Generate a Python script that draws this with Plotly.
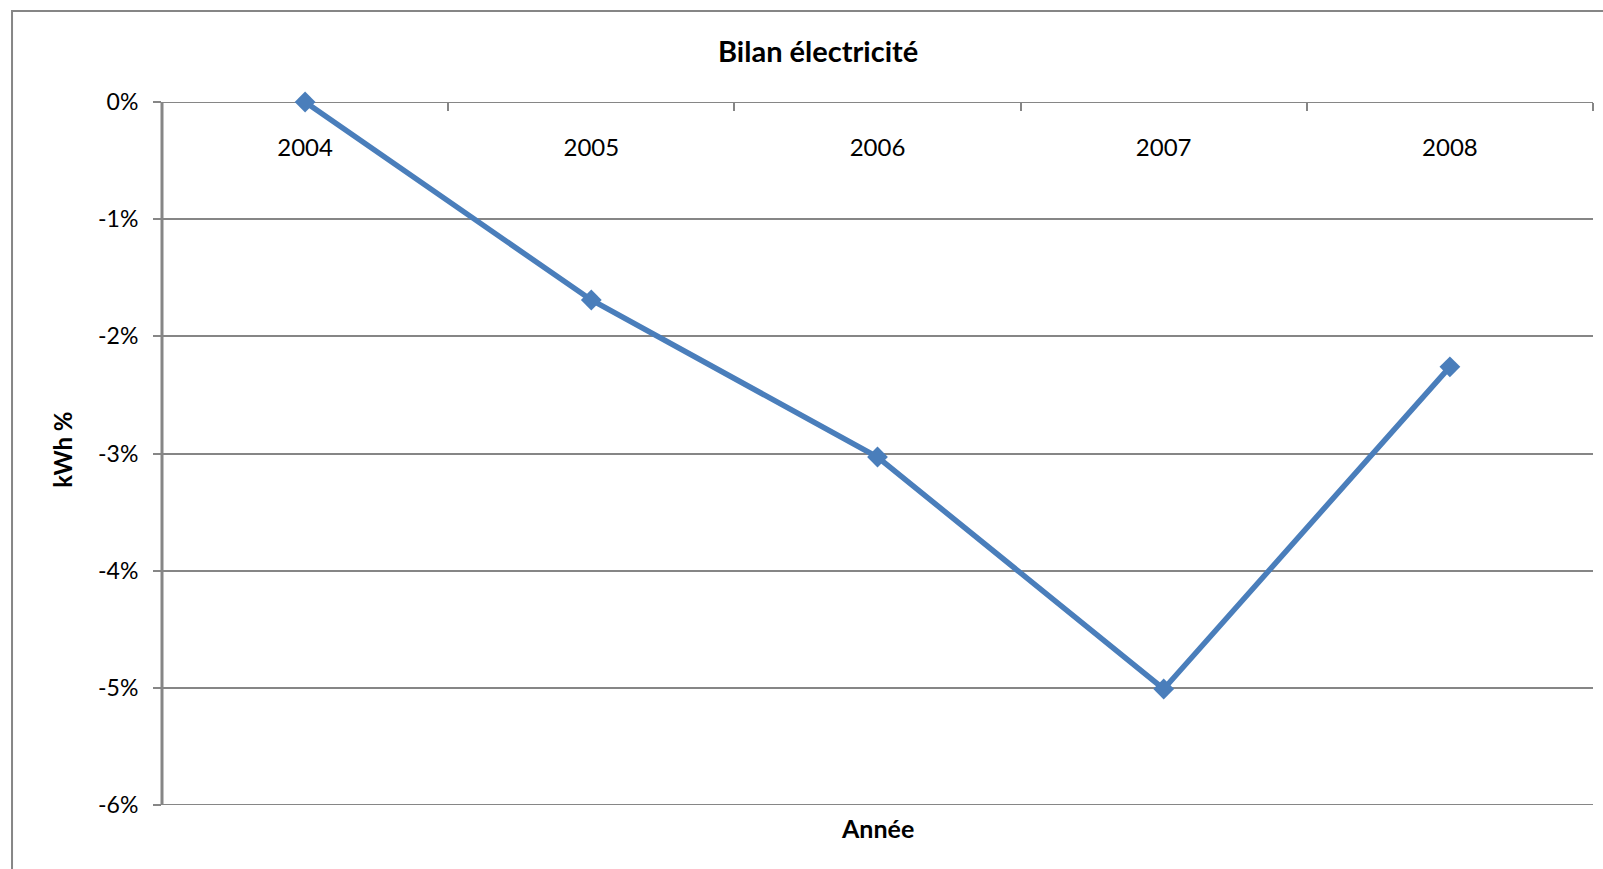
import plotly.graph_objects as go

# Annual electricity balance, change in kWh relative to 2004
years = ["2004", "2005", "2006", "2007", "2008"]
kwh_change = [0.0, -1.69, -3.03, -5.01, -2.26]

y_ticks = [0, -1, -2, -3, -4, -5, -6]
y_tick_labels = ["0%", "-1%", "-2%", "-3%", "-4%", "-5%", "-6%"]

title_text = "Bilan électricité"
x_title = "Année"
y_title = "kWh %"

FONT = "Lato"
GRID = "#868686"
BLUE = "#4A7EBB"

fig = go.Figure(
    go.Scatter(
        x=years,
        y=kwh_change,
        mode="lines+markers",
        line=dict(color=BLUE, width=5.5),
        marker=dict(symbol="diamond", size=16, color=BLUE),
        cliponaxis=False,
    )
)

fig.update_layout(
    width=1603,
    height=869,
    margin=dict(l=162, r=10, t=102, b=64),
    paper_bgcolor="white",
    plot_bgcolor="white",
    showlegend=False,
    font=dict(family=FONT, color="black", size=24),
)

# Category axis sits on the 0% line, labels hanging below it
fig.update_xaxes(
    type="category",
    range=[-0.5, 4.5],
    side="bottom",
    anchor="free",
    position=1,
    tickson="boundaries",
    ticks="outside",
    ticklen=8,
    tickwidth=2,
    tickcolor=GRID,
    ticklabelstandoff=29,
    showline=False,
    showgrid=False,
    zeroline=False,
    tickfont=dict(family=FONT, size=24, color="black"),
)

y_min, y_max = min(y_ticks), max(y_ticks)

fig.update_yaxes(
    range=[y_min, y_max],
    tickvals=y_ticks,
    ticktext=y_tick_labels,
    ticks="outside",
    ticklen=8,
    tickwidth=2,
    tickcolor=GRID,
    ticklabelstandoff=10,
    showgrid=True,
    gridcolor=GRID,
    gridwidth=2,
    showline=False,
    zeroline=False,
    tickfont=dict(family=FONT, size=23, color="black"),
)

# Gridlines on the top and bottom edges of the plot area
for edge in (y_min, y_max):
    fig.add_shape(
        type="line", xref="paper", yref="y",
        x0=0, x1=1, y0=edge, y1=edge,
        line=dict(color=GRID, width=2), layer="below",
    )

# Vertical value-axis line from 0% down to -6%
fig.add_shape(
    type="line", xref="paper", yref="y",
    x0=0, x1=0, y0=y_min, y1=y_max,
    line=dict(color=GRID, width=3), layer="above",
)

# Chart area frame
fig.add_shape(
    type="rect", xref="paper", yref="paper",
    x0=-0.1048, x1=1.2, y0=-0.3, y1=1.1296,
    line=dict(color=GRID, width=2), fillcolor="rgba(0,0,0,0)", layer="below",
)

fig.add_annotation(
    text=f"<b>{title_text}</b>", xref="paper", yref="paper",
    x=0.4583, y=1.0729, showarrow=False, xanchor="center", yanchor="middle",
    font=dict(family=FONT, size=29, color="black"),
)
fig.add_annotation(
    text=f"<b>{x_title}</b>", xref="paper", yref="paper",
    x=0.5, y=-0.0325, showarrow=False, xanchor="center", yanchor="middle",
    font=dict(family=FONT, size=25, color="black"),
)
fig.add_annotation(
    text=f"<b>{y_title}</b>", xref="paper", yref="paper",
    x=-0.0693, y=0.505, showarrow=False, xanchor="center", yanchor="middle",
    textangle=-90,
    font=dict(family=FONT, size=24, color="black"),
)

fig.write_html("out.html")
